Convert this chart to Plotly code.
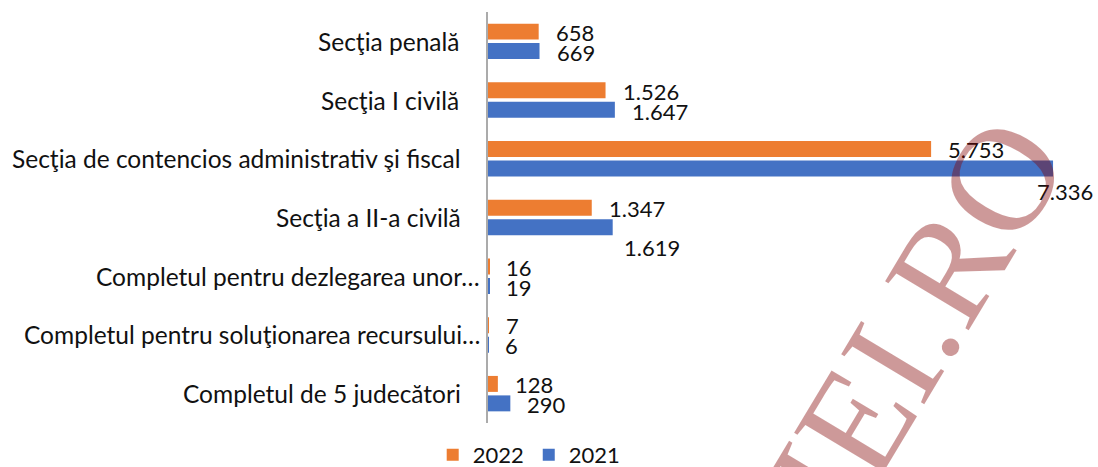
import plotly.graph_objects as go

# ---- data ----
categories = [
    "Secţia penală",
    "Secţia I civilă",
    "Secţia de contencios administrativ şi fiscal",
    "Secţia a II-a civilă",
    "Completul pentru dezlegarea unor…",
    "Completul pentru soluţionarea recursului…",
    "Completul de 5 judecători",
]
values_2022 = [658, 1526, 5753, 1347, 16, 7, 128]
values_2021 = [669, 1647, 7336, 1619, 19, 6, 290]
series_names = ["2022", "2021"]
watermark_text = "LUMEAJUSTITIEI.RO"

# ---- style ----
colors = {"2022": "#ED7D31", "2021": "#4472C4"}
FONT = "Lato"
label_font = dict(family=FONT, size=22, color="#111111")
tick_font = dict(family=FONT, size=24.5, color="#111111")
# default label offset (px) from bar end, and vertical offset per series
label_dx = 15
series_dy = {"2022": 9, "2021": -11}
# manually moved data labels (series, category index) -> (dx, dy)
moved_labels = {("2021", 2): (-18, -33), ("2021", 3): (9, -30)}
# tick label gap from axis (px) for each category
tick_gap = [27, 27, 25, 25, 6, 6, 25]


def fmt(v):
    return f"{v:,}".replace(",", ".")


fig = go.Figure()
for name, vals in zip(series_names, [values_2022, values_2021]):
    fig.add_trace(go.Bar(
        y=categories, x=vals, name=name, orientation="h",
        marker=dict(color=colors[name], line=dict(width=0)),
        hoverinfo="x+y",
    ))

annotations = []
for name, vals in zip(series_names, [values_2022, values_2021]):
    for i, (cat, v) in enumerate(zip(categories, vals)):
        dx, dy = moved_labels.get((name, i), (label_dx, series_dy[name]))
        annotations.append(dict(
            x=v, y=cat, xref="x", yref="y", text=fmt(v), showarrow=False,
            xanchor="left", yanchor="middle", xshift=dx, yshift=dy,
            font=label_font,
        ))

for cat, gap in zip(categories, tick_gap):
    annotations.append(dict(
        x=0, y=cat, xref="paper", yref="y", text=cat, showarrow=False,
        xanchor="right", yanchor="middle", xshift=-gap, font=tick_font,
    ))

# watermark
annotations.append(dict(
    x=0.289, y=-0.790, xref="paper", yref="paper", text=watermark_text,
    showarrow=False, textangle=-59, xanchor="center", yanchor="middle",
    font=dict(family="Liberation Serif", size=148, color="rgba(129,0,0,0.4)"),
))

fig.update_layout(
    width=1098, height=467,
    margin=dict(l=488, r=18, t=12, b=44, autoexpand=False),
    paper_bgcolor="white", plot_bgcolor="white",
    barmode="group", bargap=0.337, bargroupgap=0.18,
    showlegend=True,
    legend=dict(orientation="h", x=0.0696, y=-0.078, xanchor="center",
                yanchor="middle", font=dict(family=FONT, size=22, color="#111111"),
                itemwidth=30, traceorder="normal"),
    annotations=annotations,
    xaxis=dict(range=[0, 7686], showgrid=False, zeroline=False,
               showticklabels=False, showline=False, ticks=""),
    yaxis=dict(autorange="reversed", showgrid=False, zeroline=False,
               showticklabels=False, showline=True, linecolor="#ABABAB",
               linewidth=2, ticks="", categoryorder="array",
               categoryarray=categories),
)

fig.write_html("out.html", config={"displayModeBar": False},
               post_script="document.body.style.margin='0';")
